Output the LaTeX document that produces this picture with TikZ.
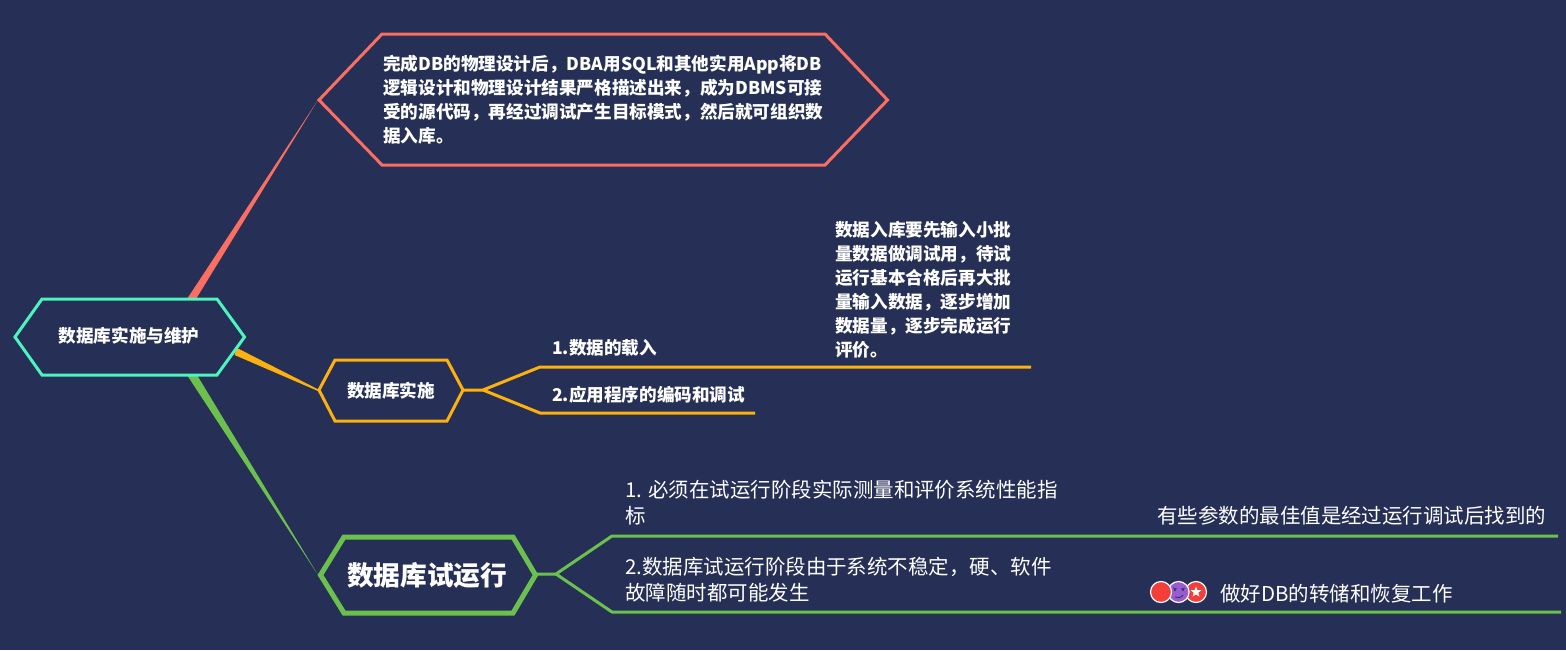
\documentclass[tikz,border=0pt]{standalone}
\usepackage{fontspec}
\setmainfont{Noto Sans CJK SC}
\usetikzlibrary{shapes.geometric}
\definecolor{bgc}{HTML}{262F55}
\definecolor{redc}{HTML}{FB6F62}
\definecolor{yelc}{HTML}{FDB10F}
\definecolor{grnc}{HTML}{6CC04E}
\definecolor{cyac}{HTML}{4CF5C0}
\definecolor{txtc}{HTML}{FFFFFF}
\definecolor{iconr}{HTML}{F43E3A}
\definecolor{iconp}{HTML}{9B5BD0}
\tikzset{
  hexa/.style={line width=2.25pt,line join=miter},
  boldtext/.style={text=txtc,font=\fontsize{13.2}{18}\selectfont\bfseries,inner sep=0pt},
  blocktext/.style={boldtext,align=left,anchor=north west},
  normtext/.style={text=txtc,font=\fontsize{15.35}{19.6}\selectfont,inner sep=0pt,align=left,anchor=north west},
  branch/.style={line width=2.25pt,line join=round},
  iconc/.style={draw=white,line width=0.9pt}
}
\begin{document}
\begin{tikzpicture}[x=0.75pt,y=-0.75pt]
\useasboundingbox (0,0) rectangle (1566,650);
\fill[bgc] (0,0) rectangle (1566,650);
% anchor coordinates
\coordinate (aL) at (318,100);
\coordinate (bL) at (318,390);
\coordinate (bR) at (463,390);
\coordinate (bJ) at (483,390);
\coordinate (b1s) at (540,367);
\coordinate (b1e) at (1031,367);
\coordinate (b2s) at (540,413);
\coordinate (b2e) at (755,413);
\coordinate (cL) at (318,575);
\coordinate (cR) at (535,574);
\coordinate (cJ) at (556,574);
\coordinate (c1s) at (612,536);
\coordinate (c1e) at (1558,536);
\coordinate (c2s) at (612,612);
\coordinate (c2e) at (1561,612);
% tapered connectors
\fill[redc] (187,299) -- (196,299) -- (aL) -- cycle;
\fill[yelc] (234.5,355) -- (237,348) -- (318,389.3) -- (318,391) -- cycle;
\fill[grnc] (187,375) -- (197,375) -- (cL) -- cycle;
% hexagons
\draw[hexa,draw=cyac] (15,337) -- (42,299) -- (217,299) -- (244.5,337) -- (217,375) -- (42,375) -- cycle;
\draw[hexa,draw=redc] (319,100) -- (382,34) -- (825,34) -- (887.5,100) -- (825,165) -- (382,165) -- cycle;
\draw[hexa,draw=yelc] (319,390) -- (335,360) -- (447,360) -- (463,390) -- (447,421) -- (335,421) -- cycle;
\draw[line width=3.75pt,line join=miter,draw=grnc] (320.5,575) -- (344,537) -- (513,537) -- (535.5,575) -- (513,613) -- (344,613) -- cycle;
% branches
\draw[branch,draw=yelc] (bR) -- (bJ) -- (b1s) -- (b1e);
\draw[branch,draw=yelc] (bJ) -- (b2s) -- (b2e);
\draw[branch,draw=grnc] (cR) -- (cJ) -- (c1s) -- (c1e);
\draw[branch,draw=grnc] (cJ) -- (c2s) -- (c2e);
% texts
\node[boldtext] (root) at (129,336) {数据库实施与维护};
\node[blocktext] (a) at (383,55) {完成DB的物理设计后，DBA用SQL和其他实用App将DB\\逻辑设计和物理设计结果严格描述出来，成为DBMS可接\\受的源代码，再经过调试产生目标模式，然后就可组织数\\据入库。};
\node[boldtext] (b) at (391,391) {数据库实施};
\node[blocktext] (b1) at (552,339) {1.数据的载入};
\node[blocktext] (b1n) at (835,221) {数据入库要先输入小批\\量数据做调试用，待试\\运行基本合格后再大批\\量输入数据，逐步增加\\数据量，逐步完成运行\\评价。};
\node[blocktext] (b2) at (552,386) {2.应用程序的编码和调试};
\node[text=txtc,font=\fontsize{20}{24}\selectfont\bfseries,inner sep=0pt] (c) at (427,575) {数据库试运行};
\node[normtext] (c1) at (625,480) {1. 必须在试运行阶段实际测量和评价系统性能指\\标};
\node[normtext] (c1n) at (1157,506) {有些参数的最佳值是经过运行调试后找到的};
\node[normtext] (c2) at (625,557) {2.数据库试运行阶段由于系统不稳定，硬、软件\\故障随时都可能发生};
\node[normtext] (c2n) at (1220,584) {做好DB的转储和恢复工作};
% icons
\draw[iconc,fill=iconr] (1196,592) circle (10.5);
\node[star,star points=5,star point ratio=2.4,fill=white,inner sep=0pt,minimum size=8.5pt] (starIcon) at (1196,592) {};
\draw[iconc,fill=iconp] (1178.5,592) circle (10.5);
\fill[bgc] (1175,590) circle (1.2) (1183,590) circle (1.2);
\draw[bgc,line width=0.5pt] (1173,588) -- (1177,589) (1185,588) -- (1181,589);
\draw[bgc,line width=0.6pt] (1175,597) .. controls (1178,598) and (1181,598) .. (1183,595);
\draw[iconc,fill=iconr] (1161,592) circle (10.5);
\end{tikzpicture}
\end{document}
